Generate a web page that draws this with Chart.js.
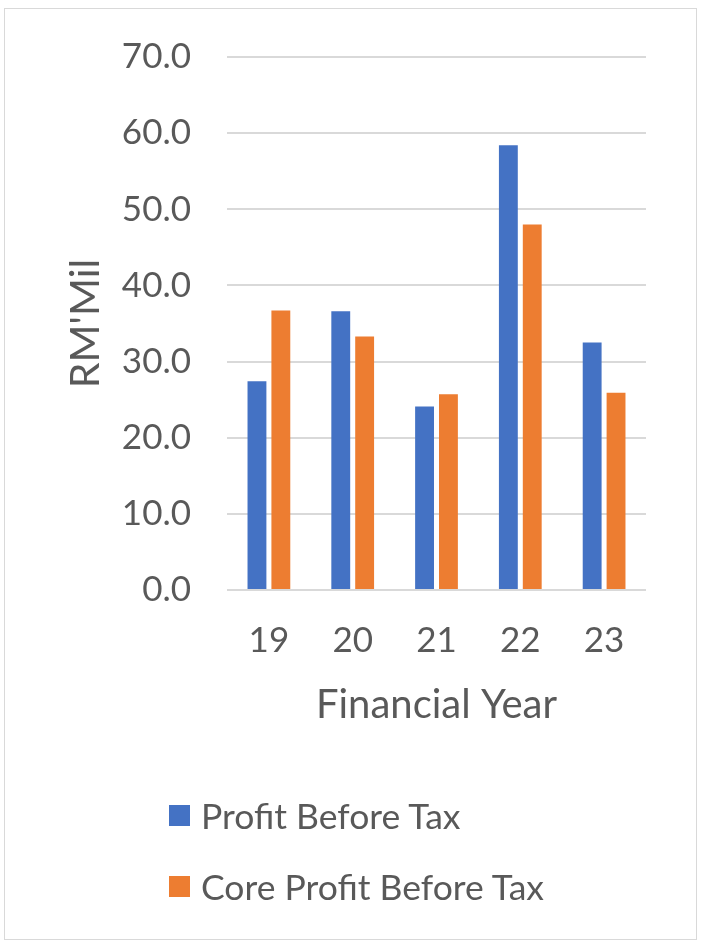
<!DOCTYPE html>
<html>
<head>
<meta charset="utf-8">
<script src="https://cdn.jsdelivr.net/npm/chart.js@4/dist/chart.umd.min.js"></script>
<style>
  html, body { margin: 0; padding: 0; background: #fff; }
  #wrap { position: relative; width: 702px; height: 942px; overflow: hidden; }
  #frame { position: absolute; left: 4px; top: 8px; width: 693px; height: 932px; border: 1.5px solid #d9d9d9; box-sizing: border-box; }
  #c { position: absolute; left: 0; top: 0; }
  .leg { position: absolute; left: 169px; font-family: Lato, "Open Sans", sans-serif; font-size: 35.5px; color: #595959; line-height: 1; display: flex; align-items: center; }
  .leg span.box { display: inline-block; width: 21px; height: 21px; margin-right: 11px; }
</style>
</head>
<body>
<div id="wrap">
  <div id="frame"></div>
  <canvas id="c" width="702" height="942"></canvas>
  <div class="leg" style="top:798px"><span class="box" style="background:#4472C4"></span>Profit Before Tax</div>
  <div class="leg" style="top:869px"><span class="box" style="background:#ED7D31"></span>Core Profit Before Tax</div>
</div>
<script>
const categories = ["19", "20", "21", "22", "23"];
const profitBeforeTax = [27.4, 36.6, 24.1, 58.4, 32.5];
const coreProfitBeforeTax = [36.7, 33.3, 25.7, 48.0, 25.9];
const seriesNames = ["Profit Before Tax", "Core Profit Before Tax"];
const yTitle = "RM'Mil";
const xTitle = "Financial Year";

const FONT = "Lato, 'Open Sans', sans-serif";
const TXT = "#595959";

new Chart(document.getElementById('c'), {
  type: 'bar',
  data: {
    labels: categories,
    datasets: [
      { label: seriesNames[0], data: profitBeforeTax, backgroundColor: '#4472C4', categoryPercentage: 0.57, barPercentage: 0.79 },
      { label: seriesNames[1], data: coreProfitBeforeTax, backgroundColor: '#ED7D31', categoryPercentage: 0.57, barPercentage: 0.79 }
    ]
  },
  options: {
    responsive: false,
    animation: false,
    devicePixelRatio: 1,
    layout: { padding: { left: 0, right: 56, top: 53, bottom: 207 } },
    plugins: { legend: { display: false }, tooltip: { enabled: false } },
    scales: {
      x: {
        grid: { display: false, drawTicks: false },
        border: { display: false },
        ticks: { color: TXT, font: { family: FONT, size: 35 }, padding: 30 },
        title: { display: true, text: xTitle, color: TXT, font: { family: FONT, size: 40 }, padding: { top: 0, bottom: 6 } },
        afterFit(s) { s.height = 145; }
      },
      y: {
        min: 0, max: 70,
        ticks: { stepSize: 10, color: TXT, font: { family: FONT, size: 35 }, padding: 36,
          callback: v => v.toFixed(1) },
        grid: { color: '#d9d9d9', lineWidth: 2, drawTicks: false },
        border: { display: false },
        title: { display: true, text: yTitle, color: TXT, font: { family: FONT, size: 41 }, padding: { top: 61, bottom: 0 } },
        afterFit(s) { s.width = 227; }
      }
    }
  }
});
</script>
</body>
</html>
